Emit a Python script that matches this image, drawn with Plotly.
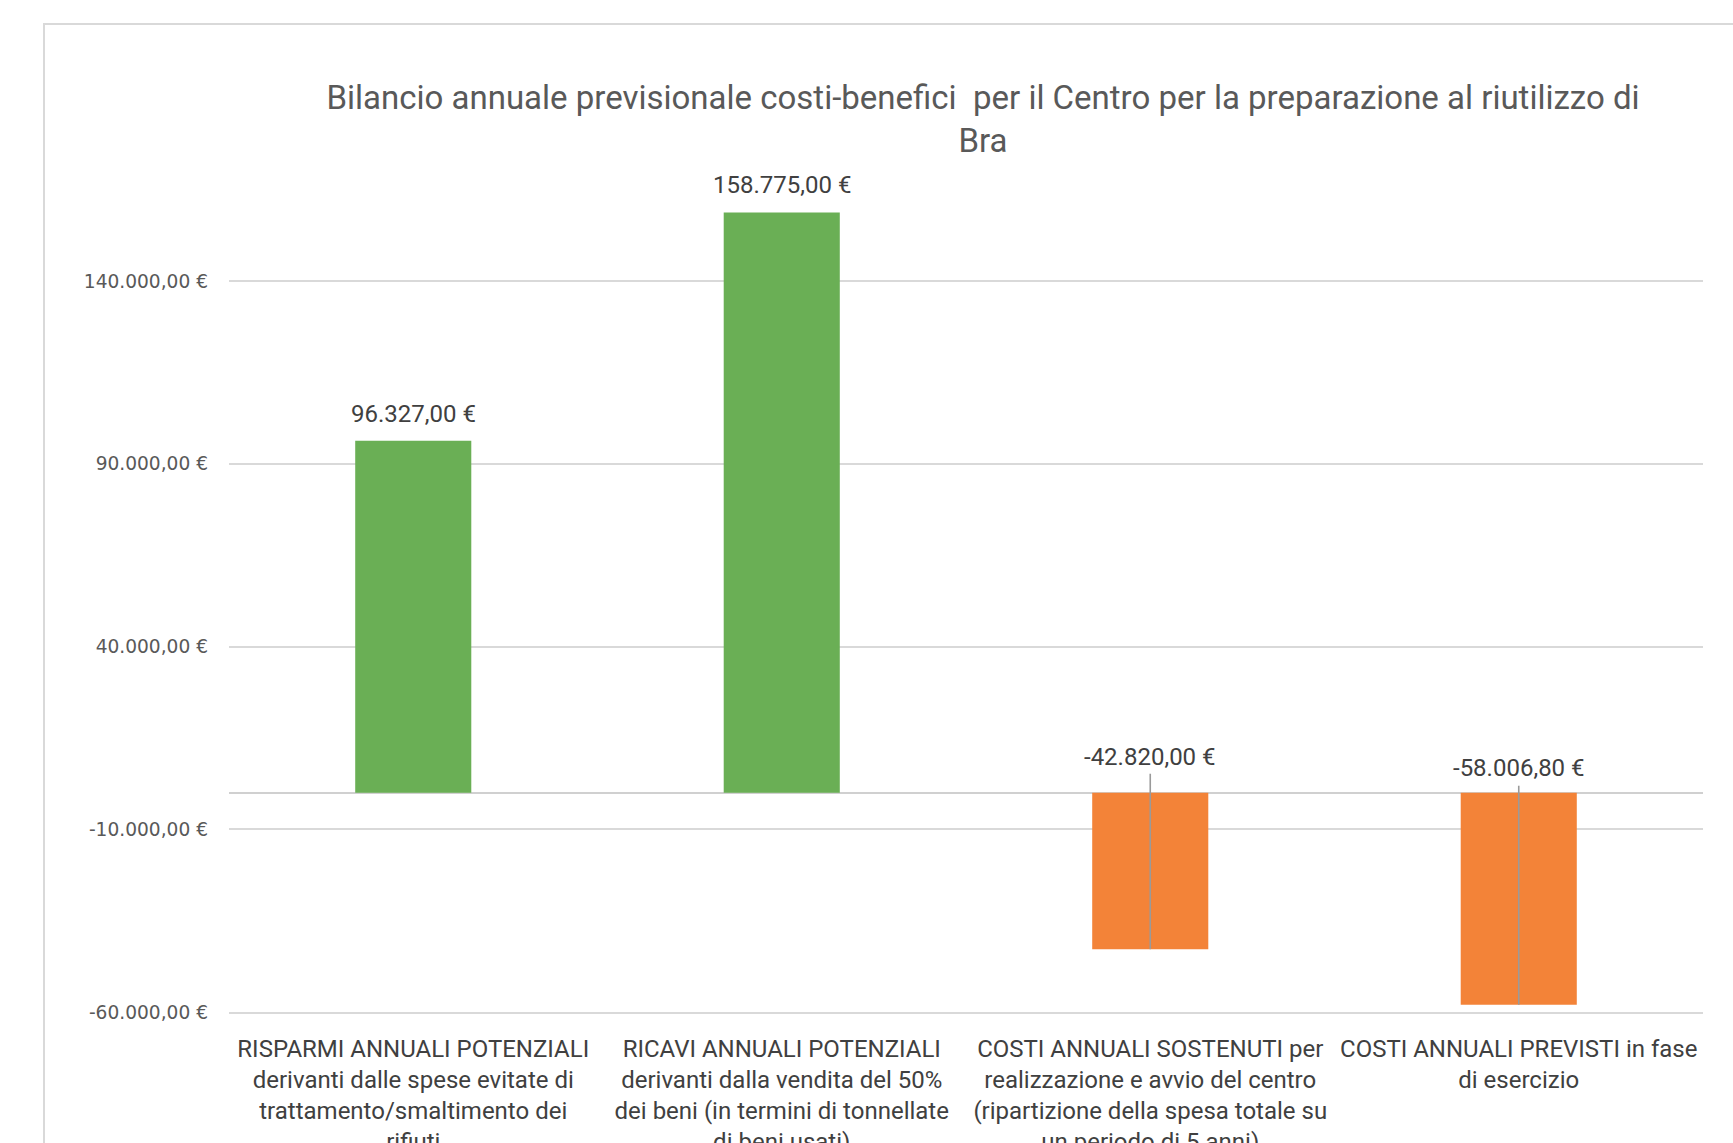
import plotly.graph_objects as go

# ---------------- data ----------------
categories = [
    "RISPARMI ANNUALI POTENZIALI derivanti dalle spese evitate di trattamento/smaltimento dei rifiuti",
    "RICAVI ANNUALI POTENZIALI derivanti dalla vendita del 50% dei beni (in termini di tonnellate di beni usati)",
    "COSTI ANNUALI SOSTENUTI per realizzazione e avvio del centro (ripartizione della spesa totale su un periodo di 5 anni)",
    "COSTI ANNUALI PREVISTI in fase di esercizio",
]
category_lines = [
    ["RISPARMI ANNUALI POTENZIALI", "derivanti dalle spese evitate di", "trattamento/smaltimento dei", "rifiuti"],
    ["RICAVI ANNUALI POTENZIALI", "derivanti dalla vendita del 50%", "dei beni (in termini di tonnellate", "di beni usati)"],
    ["COSTI ANNUALI SOSTENUTI per", "realizzazione e avvio del centro", "(ripartizione della spesa totale su", "un periodo di 5 anni)"],
    ["COSTI ANNUALI PREVISTI in fase", "di esercizio"],
]
values = [96327.00, 158775.00, -42820.00, -58006.80]
y_tick_values = [-60000, -10000, 40000, 90000, 140000]
title_text = "Bilancio annuale previsionale costi-benefici  per il Centro per la preparazione al riutilizzo di<br>Bra"


def euro(v):
    s = f"{v:,.2f}"
    s = s.replace(",", "X").replace(".", ",").replace("X", ".")
    return s + " €"


y_tick_labels = [euro(v) for v in y_tick_values]
value_labels = [euro(v) for v in values]

# ---------------- style / geometry ----------------
W, H = 1733, 1143
PL, PR, PT, PB = 229, 1703, 208, 1012
Y_MIN, Y_MAX = -60000, 160000
units_per_px = (Y_MAX - Y_MIN) / (PB - PT)

GREEN = "#6AAF55"
ORANGE = "#F38338"
label_shift_px = [27, 27, 36, 25]      # data label offsets
leader_above_zero_px = [0, 0, 19, 7]   # leader line top above zero

CAL = "Roboto, sans-serif"

colors = [GREEN if v >= 0 else ORANGE for v in values]
err_plus = [abs(v) + leader_above_zero_px[i] * units_per_px if v < 0 else 0
            for i, v in enumerate(values)]
err_minus = [0 for _ in values]

fig = go.Figure()
fig.add_trace(go.Bar(
    x=categories,
    y=values,
    marker=dict(color=colors, line=dict(width=0)),
    error_y=dict(type="data", symmetric=False, array=err_plus, arrayminus=err_minus,
                 color="#9a9a9a", thickness=1.6, width=0),
    hoverinfo="skip",
    showlegend=False,
))

annotations = []
for i, (c, v) in enumerate(zip(categories, values)):
    annotations.append(dict(
        x=c, y=v if v >= 0 else 0, xref="x", yref="y",
        text=value_labels[i], showarrow=False,
        yanchor="middle", yshift=label_shift_px[i],
        font=dict(family=CAL, size=24, color="#404040"),
    ))


def px_x(px):
    return (px - PL) / (PR - PL)


def px_y(py):
    return (PB - py) / (PB - PT)


frame_path = (f"M {px_x(44)},{px_y(1160)} L {px_x(44)},{px_y(24)} "
              f"L {px_x(1745)},{px_y(24)}")

fig.update_layout(
    width=W, height=H,
    margin=dict(l=PL, r=W - PR, t=PT, b=H - PB, pad=0, autoexpand=False),
    paper_bgcolor="white", plot_bgcolor="white",
    bargap=0.685,
    title=dict(
        text=title_text,
        x=983 / W, xref="container", xanchor="center",
        y=1 - 109 / H, yref="container", yanchor="top",
        font=dict(family=CAL, size=33, color="#595959"),
    ),
    xaxis=dict(
        tickmode="array", tickvals=categories,
        ticktext=["<br>".join(l) for l in category_lines],
        tickfont=dict(family=CAL, size=24, color="#404040"),
        tickangle=0, automargin=False,
        showgrid=False, zeroline=False,
        showline=True, linecolor="#d9d9d9", linewidth=1.5,
        ticks="", ticklabelstandoff=14,
    ),
    yaxis=dict(
        range=[Y_MIN, Y_MAX], automargin=False,
        tickmode="array", tickvals=y_tick_values, ticktext=y_tick_labels,
        tickfont=dict(family="DejaVu Sans", size=18.6, color="#595959"),
        showgrid=True, gridcolor="#d9d9d9", gridwidth=1.5,
        zeroline=True, zerolinecolor="#d0d0d0", zerolinewidth=1.5,
        showline=False, ticks="", ticklabelstandoff=20,
    ),
    annotations=annotations,
    shapes=[dict(type="path", path=frame_path, xref="paper", yref="paper",
                 line=dict(color="#d9d9d9", width=2), layer="above")],
)

fig.write_html("out.html")
